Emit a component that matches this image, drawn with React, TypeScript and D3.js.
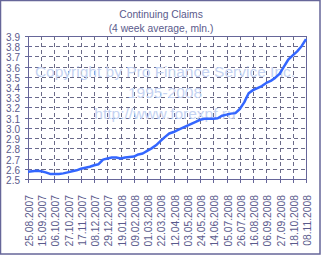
import React from "react";
import * as d3 from "d3";

// weekly 4-week average of continuing claims, mln., starting 25.08.2007
const startDate = "25.08.2007";
const claims = [
  2.57, 2.575, 2.58, 2.575, 2.565, 2.55, 2.55, 2.55, 2.555, 2.565,
  2.575, 2.585, 2.6, 2.61, 2.62, 2.635, 2.645, 2.69, 2.7, 2.71,
  2.71, 2.7, 2.71, 2.715, 2.72, 2.74, 2.75, 2.775, 2.8, 2.83,
  2.87, 2.91, 2.945, 2.96, 2.98, 3.0, 3.02, 3.04, 3.06, 3.08,
  3.09, 3.09, 3.09, 3.095, 3.12, 3.13, 3.14, 3.145, 3.185, 3.25,
  3.34, 3.37, 3.39, 3.41, 3.44, 3.46, 3.49, 3.53, 3.6, 3.67,
  3.71, 3.75, 3.8, 3.87,
];

const xTickLabels = [
  "25.08.2007", "15.09.2007", "06.10.2007", "27.10.2007", "17.11.2007",
  "08.12.2007", "29.12.2007", "19.01.2008", "09.02.2008", "01.03.2008",
  "22.03.2008", "12.04.2008", "03.05.2008", "24.05.2008", "14.06.2008",
  "05.07.2008", "26.07.2008", "16.08.2008", "06.09.2008", "27.09.2008",
  "18.10.2008", "08.11.2008",
];

const yTicks = [2.5, 2.6, 2.7, 2.8, 2.9, 3.0, 3.1, 3.2, 3.3, 3.4, 3.5, 3.6, 3.7, 3.8, 3.9];

const titleLines = ["Continuing Claims", "(4 week average, mln.)"];
const watermark = [
  "Copyright by Pro Finance Service Inc.",
  "1995-2008",
  "http://www.forexpf.ru",
];

const W = 321;
const H = 256;
const margin = { top: 36, right: 15, bottom: 77, left: 28 };

const textColor = "#5a5a8c";
const axisColor = "#666699";
const gridColor = "#6a6a88";
const lineColor = "#3366ff";
const font = "'Liberation Sans', Arial, sans-serif";

const parse = d3.timeParse("%d.%m.%Y");

const App: React.FC = () => {
  const start = parse(startDate) as Date;
  const data = claims.map((v, i) => ({ date: d3.timeWeek.offset(start, i), value: v }));
  const tickDates = xTickLabels.map((s) => parse(s) as Date);

  const x = d3
    .scaleTime()
    .domain([start, data[data.length - 1].date])
    .range([margin.left, W - margin.right]);

  const y = d3
    .scaleLinear()
    .domain([2.5, 3.9])
    .range([H - margin.bottom, margin.top]);

  const line = d3
    .line<{ date: Date; value: number }>()
    .x((d) => x(d.date))
    .y((d) => y(d.value));

  const x0 = x.range()[0];
  const x1 = x.range()[1];
  const y0 = y.range()[0];
  const y1 = y.range()[1];

  return (
    <svg
      width={W}
      height={H}
      style={{ position: "absolute", left: 0, top: 0, background: "#fff" }}
      fontFamily={font}
    >
      <rect x={0.5} y={0.5} width={319.5} height={253.5} fill="#fff" stroke={axisColor} strokeWidth={1.5} />

      {/* title */}
      {titleLines.map((t, i) => (
        <text key={t} x={161} y={18 + i * 14} textAnchor="middle" fontSize={10.3} fill={textColor}>
          {t}
        </text>
      ))}

      {/* grid */}
      {yTicks.slice(1, -1).map((v) => (
        <line
          key={"h" + v}
          x1={x0}
          x2={x1}
          y1={Math.round(y(v)) + 0.5}
          y2={Math.round(y(v)) + 0.5}
          stroke={gridColor}
          strokeDasharray="4,3"
        />
      ))}
      {tickDates.slice(1, -1).map((d, i) => (
        <line
          key={"v" + i}
          x1={Math.round(x(d)) + 0.5}
          x2={Math.round(x(d)) + 0.5}
          y1={y1}
          y2={y0}
          stroke={gridColor}
          strokeDasharray="4,3"
        />
      ))}

      {/* watermark */}
      {watermark.map((t, i) => (
        <text key={t} x={165} y={77 + i * 21} textAnchor="middle" fontSize={15.5} fill="#c5d3f2">
          {t}
        </text>
      ))}

      {/* frame */}
      <rect x={x0 + 0.5} y={y1 + 0.5} width={x1 - x0} height={y0 - y1} fill="none" stroke={axisColor} />

      {/* y ticks + labels */}
      {yTicks.map((v) => (
        <g key={"y" + v} transform={`translate(0,${Math.round(y(v)) + 0.5})`}>
          <line x1={x0 - 3} x2={x0 + 4} stroke={axisColor} />
          <text x={20} dy={4} textAnchor="end" fontSize={10} fill={textColor}>
            {v.toFixed(1)}
          </text>
        </g>
      ))}

      {/* x ticks + labels */}
      {tickDates.map((d, i) => (
        <g key={"x" + i} transform={`translate(${Math.round(x(d)) + 0.5},0)`}>
          <line y1={y0 - 3} y2={y0 + 4} stroke={axisColor} />
          <text
            transform={`translate(4,195) rotate(-90)`}
            textAnchor="end"
            fontSize={10.3}
            fill={textColor}
          >
            {xTickLabels[i]}
          </text>
        </g>
      ))}

      {/* series */}
      <path d={line(data) ?? ""} fill="none" stroke={lineColor} strokeWidth={2.5} strokeLinejoin="round" />
    </svg>
  );
};

export default App;
